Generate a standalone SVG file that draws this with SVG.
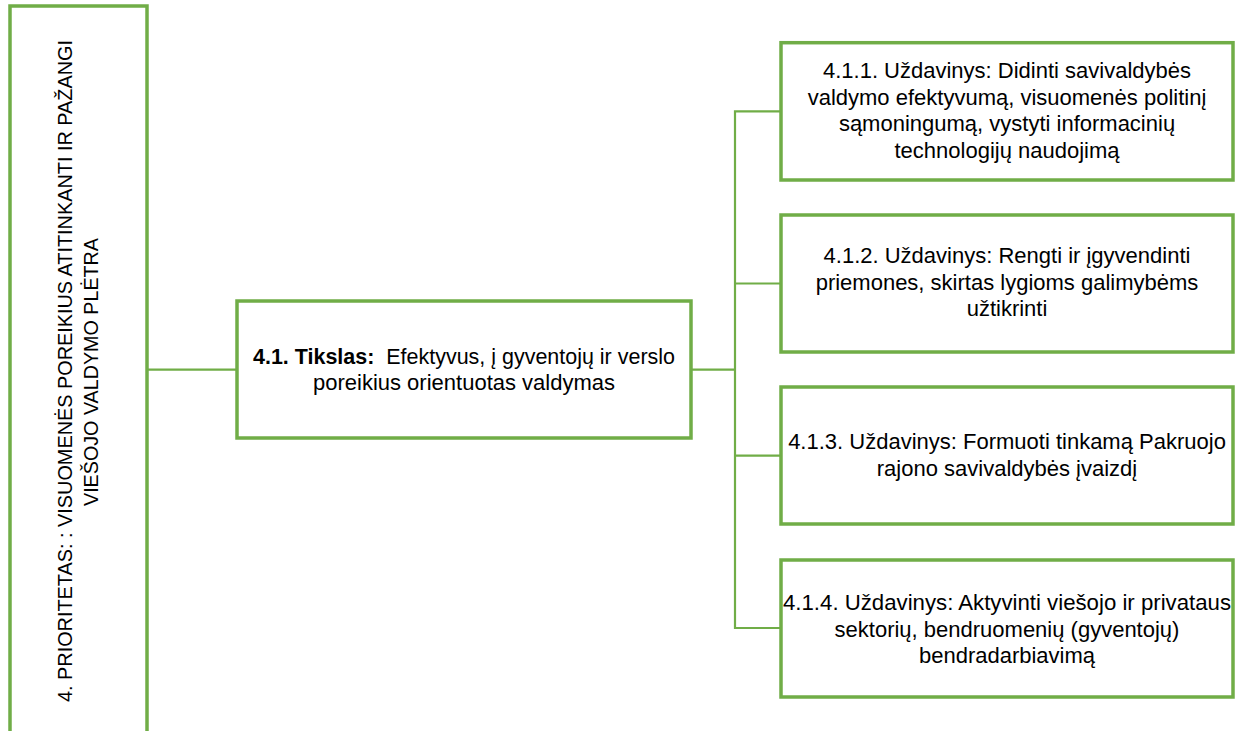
<svg xmlns="http://www.w3.org/2000/svg" width="1241" height="731" viewBox="0 0 1241 731">
<style>
.box{fill:#ffffff;stroke:#70AD47;stroke-width:3.5}
.con{fill:none;stroke:#70AD47;stroke-width:2.2}
.t{font-family:"Liberation Sans",Arial,sans-serif;font-size:22px;fill:#000000;text-anchor:middle}
.v{font-family:"Liberation Sans",Arial,sans-serif;font-size:20.5px;fill:#000000;text-anchor:middle}
.b{font-weight:bold}
</style>
<rect width="1241" height="731" fill="#ffffff"/>
<g id="connectors">
<line class="con" x1="147" y1="369.6" x2="237" y2="369.6"/>
<line class="con" x1="691" y1="369.6" x2="735" y2="369.6"/>
<polyline class="con" points="781,111.4 735,111.4 735,628 781,628"/>
<line class="con" x1="735" y1="283.5" x2="781" y2="283.5"/>
<line class="con" x1="735" y1="455.7" x2="781" y2="455.7"/>
</g>
<g id="priority">
<rect class="box" x="10" y="6" width="137" height="760"/>
<text class="v" transform="translate(72,371) rotate(-90)" textLength="662" lengthAdjust="spacingAndGlyphs">4. PRIORITETAS: : VISUOMENĖS POREIKIUS ATITINKANTI IR PAŽANGI</text>
<text class="v" transform="translate(98,372) rotate(-90)" textLength="268" lengthAdjust="spacingAndGlyphs">VIEŠOJO VALDYMO PLĖTRA</text>
</g>
<g id="goal">
<rect class="box" x="237" y="301" width="454" height="137"/>
<text class="t" x="464" y="364" xml:space="preserve" textLength="422" lengthAdjust="spacingAndGlyphs"><tspan class="b">4.1. Tikslas:</tspan>  Efektyvus, į gyventojų ir verslo</text>
<text class="t" x="464" y="390">poreikius orientuotas valdymas</text>
</g>
<g id="task1">
<rect class="box" x="781" y="42.7" width="452" height="137.3"/>
<text class="t" x="1007" y="78">4.1.1. Uždavinys: Didinti savivaldybės</text>
<text class="t" x="1007" y="104.5">valdymo efektyvumą, visuomenės politinį</text>
<text class="t" x="1007" y="131">sąmoningumą, vystyti informacinių</text>
<text class="t" x="1007" y="157.5">technologijų naudojimą</text>
</g>
<g id="task2">
<rect class="box" x="781" y="215" width="452" height="137"/>
<text class="t" x="1007" y="263">4.1.2. Uždavinys: Rengti ir įgyvendinti</text>
<text class="t" x="1007" y="289.5">priemones, skirtas lygioms galimybėms</text>
<text class="t" x="1007" y="316">užtikrinti</text>
</g>
<g id="task3">
<rect class="box" x="781" y="387" width="452" height="137"/>
<text class="t" x="1007" y="449">4.1.3. Uždavinys: Formuoti tinkamą Pakruojo</text>
<text class="t" x="1007" y="475.5">rajono savivaldybės įvaizdį</text>
</g>
<g id="task4">
<rect class="box" x="781" y="560" width="452" height="137"/>
<text class="t" x="1007" y="610" textLength="448" lengthAdjust="spacingAndGlyphs">4.1.4. Uždavinys: Aktyvinti viešojo ir privataus</text>
<text class="t" x="1007" y="636.5">sektorių, bendruomenių (gyventojų)</text>
<text class="t" x="1007" y="663">bendradarbiavimą</text>
</g>
</svg>
